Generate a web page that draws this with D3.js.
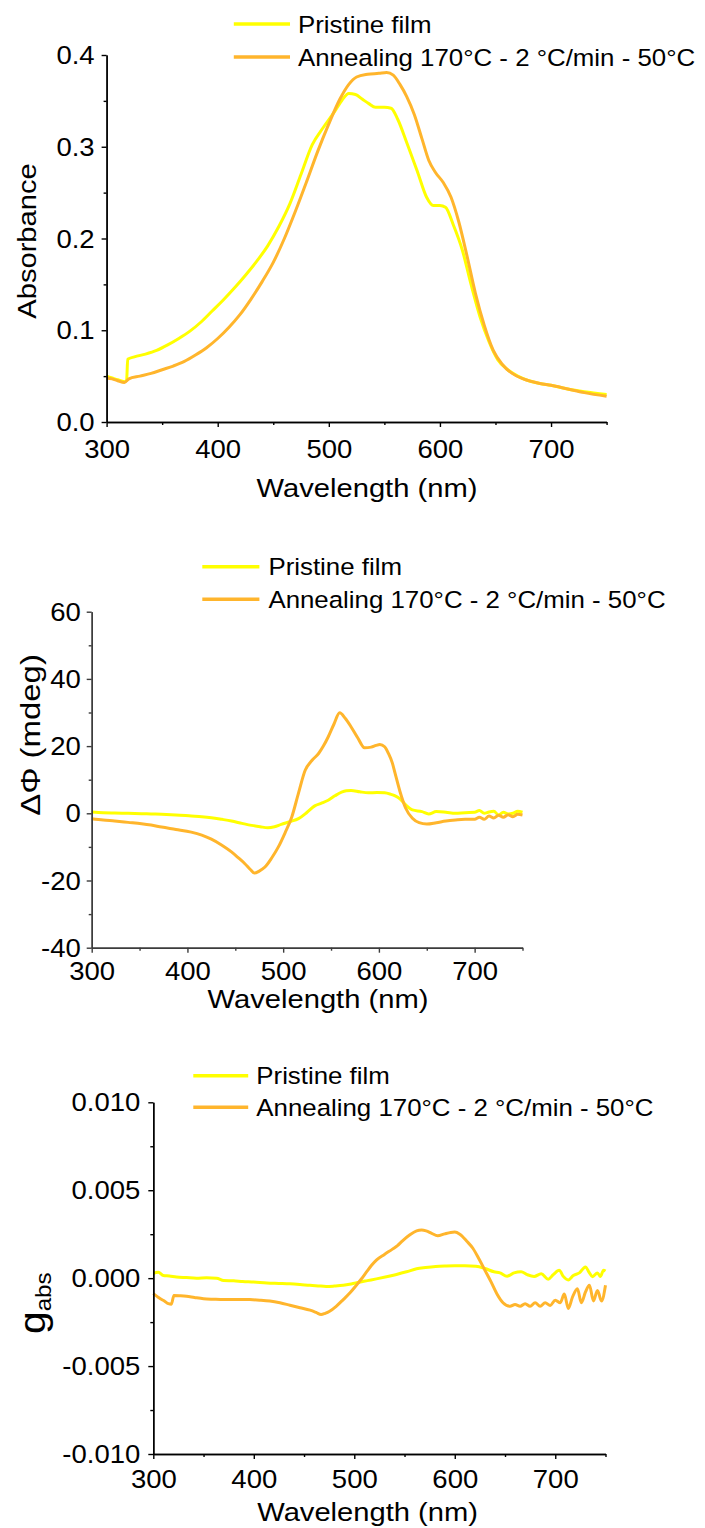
<!DOCTYPE html>
<html>
<head>
<meta charset="utf-8">
<script src="https://cdn.jsdelivr.net/npm/d3@7"></script>
<style>
  html, body { margin: 0; padding: 0; background: #fff; }
  svg { display: block; }
  text { font-family: "Liberation Sans", Arial, sans-serif; fill: #000; }
</style>
</head>
<body>
<svg id="fig" width="705" height="1528"></svg>
<script>
// ---------- data ----------
const seriesNames = ["Pristine film", "Annealing 170°C - 2 °C/min - 50°C"];
const seriesColors = ["#FFFF00", "#FFB52C"];
const xTicks = [300, 400, 500, 600, 700];
const xMinorTicks = [350, 450, 550, 650, 750];

// Absorbance spectra: [wavelength nm, absorbance]
const absPristine = [
  [300,0.050],[305,0.048],[310,0.046],[316,0.044],[318,0.045],[319,0.0685],[325,0.071],
  [335,0.074],[345,0.078],[355,0.084],[365,0.091],[375,0.099],[385,0.109],[395,0.121],
  [405,0.133],[415,0.146],[425,0.160],[435,0.175],[445,0.192],[455,0.213],[465,0.238],
  [475,0.270],[485,0.302],[495,0.321],[505,0.338],[512,0.351],[518,0.358],[524,0.357],
  [530,0.352],[536,0.347],[542,0.343],[550,0.343],[556,0.342],[562,0.330],[570,0.305],
  [580,0.272],[588,0.245],[594,0.236],[600,0.236],[605,0.234],[612,0.215],[620,0.188],
  [628,0.150],[636,0.115],[644,0.088],[652,0.068],[660,0.058],[670,0.050],[680,0.045],
  [690,0.042],[700,0.040],[715,0.036],[730,0.033],[750,0.030]
];
const absAnnealed = [
  [300,0.048],[305,0.047],[310,0.045],[316,0.043],[320,0.047],[330,0.050],[340,0.053],
  [350,0.057],[360,0.061],[370,0.066],[380,0.073],[390,0.081],[400,0.091],[410,0.103],
  [420,0.117],[430,0.134],[440,0.153],[450,0.174],[460,0.200],[470,0.230],[480,0.262],
  [490,0.295],[500,0.325],[510,0.352],[518,0.368],[525,0.376],[535,0.379],[545,0.380],
  [552,0.381],[558,0.378],[564,0.368],[570,0.355],[577,0.335],[584,0.308],[590,0.285],
  [596,0.272],[603,0.261],[610,0.245],[617,0.218],[624,0.183],[632,0.140],[640,0.105],
  [648,0.078],[656,0.063],[665,0.053],[675,0.047],[690,0.042],[700,0.040],[715,0.036],
  [730,0.032],[750,0.028]
];
const absYTicks = [0, 0.1, 0.2, 0.3, 0.4];
const absYMinor = [0.05, 0.15, 0.25, 0.35];

// Circular dichroism: [wavelength nm, ΔΦ mdeg]
const cdPristine = [
  [300,0.4],[312,0.2],[324,0.1],[338,0.0],[352,-0.1],[362,-0.2],[373,-0.3],[388,-0.5],
  [404,-0.8],[415,-1.0],[425,-1.3],[436,-1.8],[446,-2.3],[457,-3.0],[467,-3.6],[476,-4.0],
  [484,-4.3],[491,-4.0],[498,-3.3],[507,-2.5],[516,-1.6],[525,0.3],[533,2.2],[540,3.0],
  [547,3.9],[554,5.2],[561,6.3],[566,6.7],[571,6.8],[580,6.4],[589,6.1],[598,6.2],
  [606,6.1],[612,5.7],[617,5.2],[622,4.3],[628,2.5],[635,1.0],[645,0.5],[652,-0.2],
  [660,0.5],[670,0.3],[680,0.0],[690,0.2],[700,0.3],[705,0.8],[710,0.0],[715,0.4],
  [720,0.6],[725,-0.5],[730,0.3],[735,-0.2],[740,0.0],[745,0.6],[750,0.3]
];
const cdAnnealed = [
  [300,-1.6],[312,-2.0],[324,-2.3],[338,-2.7],[352,-3.1],[362,-3.5],[373,-4.1],[388,-4.8],
  [404,-5.6],[415,-6.5],[425,-7.7],[436,-9.5],[446,-11.5],[453,-13.2],[460,-15.0],[466,-16.8],
  [470,-17.8],[475,-17.2],[481,-16.0],[488,-13.3],[495,-10.0],[502,-5.8],[509,-1.1],
  [516,6.0],[523,12.8],[530,15.7],[537,17.8],[542,20.0],[547,22.7],[553,26.5],[559,29.9],
  [565,28.2],[571,25.7],[578,22.4],[585,19.5],[592,19.7],[597,20.2],[601,20.5],[606,19.8],
  [610,17.8],[614,15.0],[617,11.8],[622,6.5],[628,1.5],[635,-1.5],[642,-2.8],[650,-3.2],
  [660,-2.8],[670,-2.3],[680,-2.0],[690,-1.8],[700,-1.8],[705,-1.2],[710,-1.8],[715,-0.8],
  [720,-1.4],[725,-0.6],[730,-1.2],[735,-0.4],[740,-1.0],[745,-0.3],[750,-0.5]
];
const cdYTicks = [-40, -20, 0, 20, 40, 60];
const cdYMinor = [-30, -10, 10, 30, 50];

// Dissymmetry factor: [wavelength nm, g_abs]
const gPristine = [
  [300,0.00028],[305,0.00034],[310,0.00015],[316,0.00012],[323,0.00006],[333,0.00003],
  [343,0.0],[353,0.00002],[363,0.0],[370,-0.00013],[380,-0.00015],[389,-0.00019],
  [400,-0.00022],[413,-0.00028],[425,-0.00030],[436,-0.00032],[446,-0.00036],[456,-0.00041],
  [464,-0.00044],[472,-0.00047],[480,-0.00045],[489,-0.00041],[497,-0.00033],[505,-0.00023],
  [513,-0.00014],[522,-0.00004],[532,0.00008],[542,0.00021],[552,0.00036],[562,0.00053],
  [571,0.00060],[581,0.00066],[590,0.00069],[600,0.00071],[610,0.00071],[621,0.00068],
  [630,0.00055],[639,0.00036],[645,0.00030],[652,0.00011],[659,0.00030],[666,0.00036],
  [672,0.00020],[679,0.00010],[686,0.00025],[693,-0.00006],[698,0.00020],[704,0.00045],
  [708,0.00010],[713,-0.00010],[718,0.00015],[724,0.00030],[730,0.00064],[734,0.00030],
  [737,0.00008],[742,0.00030],[745,0.00010],[748,0.00045],[750,0.00040]
];
const gAnnealed = [
  [300,-0.00088],[304,-0.00105],[307,-0.00117],[311,-0.00130],[315,-0.00145],[318,-0.00148],
  [320.5,-0.00098],[327,-0.00100],[333,-0.00103],[341,-0.00110],[350,-0.00117],[360,-0.00120],
  [370,-0.00122],[383,-0.00121],[396,-0.00122],[406,-0.00125],[416,-0.00130],[426,-0.00140],
  [436,-0.00154],[446,-0.00168],[456,-0.00182],[462,-0.00195],[467,-0.00207],[471,-0.00200],
  [475.5,-0.00188],[482,-0.00160],[489,-0.00122],[496,-0.00082],[502,-0.00041],[507,-0.00005],
  [512,0.00034],[517,0.00072],[522,0.00103],[530,0.00135],[538,0.00165],[543,0.00185],
  [548,0.00212],[555,0.00245],[562,0.00269],[567,0.00274],[571.5,0.00269],[577,0.00255],
  [583,0.00241],[590,0.00252],[596,0.00260],[600,0.00262],[605,0.00250],[612,0.00210],
  [618,0.00170],[624,0.00110],[630,0.00045],[636,-0.00020],[642,-0.00090],[648,-0.00140],
  [655,-0.00160],[660,-0.00150],[665,-0.00160],[670,-0.00145],[675,-0.00160],[680,-0.00140],
  [685,-0.00160],[690,-0.00140],[695,-0.00155],[700,-0.00125],[705,-0.00140],[709,-0.00090],
  [713,-0.00172],[717,-0.00110],[722,-0.00060],[726,-0.00140],[730,-0.00080],[734,-0.00040],
  [738,-0.00130],[742,-0.00070],[746,-0.00130],[750,-0.00040]
];
const gYTicks = [-0.010, -0.005, 0.000, 0.005, 0.010];
const gYMinor = [-0.0075, -0.0025, 0.0025, 0.0075];

// ---------- drawing ----------
const svg = d3.select("#fig");
const STRETCH = 1.1;          // glyph width factor used by all labels
const TICK_FONT = 25, LEGEND_FONT = 23.5, TITLE_FONT = 26.5;

function stretchedText(g, x, y, str, size, anchor, rotate, stretch) {
  const k = stretch || STRETCH;
  const t = g.append("text")
    .attr("transform", `translate(${x},${y})${rotate ? " rotate(-90)" : ""} scale(${k},1)`)
    .attr("text-anchor", anchor || "start")
    .attr("font-size", size);
  t.text(str);
  return t;
}

function panel(cfg) {
  const g = svg.append("g");
  const x = d3.scaleLinear().domain([300, 750]).range([cfg.left, cfg.right]);
  const y = d3.scaleLinear().domain(cfg.yDomain).range([cfg.bottom, cfg.top]);

  // curves (pristine first, annealed on top)
  const line = d3.line().x(d => x(d[0])).y(d => y(d[1])).curve(d3.curveMonotoneX);
  cfg.series.forEach((s, i) => {
    g.append("path").datum(s)
      .attr("fill", "none")
      .attr("stroke", seriesColors[i])
      .attr("stroke-width", 3)
      .attr("stroke-linejoin", "round")
      .attr("d", line);
  });

  // axes
  const axisColor = cfg.axisColor || "#000";
  const xAxis = g.append("g").attr("transform", `translate(0,${cfg.bottom})`)
    .call(d3.axisBottom(x).tickValues(xTicks).tickSize(5).tickSizeOuter(0).tickFormat(d => d));
  const xMinor = g.append("g").attr("transform", `translate(0,${cfg.bottom})`)
    .call(d3.axisBottom(x).tickValues(xMinorTicks).tickSize(3).tickSizeOuter(0).tickFormat(""));
  const yAxis = g.append("g").attr("transform", `translate(${cfg.left},0)`)
    .call(d3.axisLeft(y).tickValues(cfg.yTicks).tickSize(5).tickSizeOuter(0).tickFormat(cfg.yFormat));
  const yMinor = g.append("g").attr("transform", `translate(${cfg.left},0)`)
    .call(d3.axisLeft(y).tickValues(cfg.yMinor).tickSize(3).tickSizeOuter(0).tickFormat(""));

  [xAxis, xMinor, yAxis, yMinor].forEach(a => {
    a.select(".domain").attr("stroke", axisColor).attr("stroke-width", 1.4);
    a.selectAll(".tick line").attr("stroke", axisColor).attr("stroke-width", 1.4);
  });
  xAxis.selectAll(".tick text")
    .attr("font-size", TICK_FONT).attr("fill", "#000")
    .attr("y", 0).attr("dy", cfg.xTickBase)
    .attr("transform", `scale(${STRETCH},1)`);
  yAxis.selectAll(".tick text")
    .attr("font-size", TICK_FONT).attr("fill", "#000")
    .attr("x", -cfg.yTickGap / STRETCH).attr("dy", "0.34em")
    .attr("transform", `scale(${STRETCH},1)`);

  // axis titles
  stretchedText(g, cfg.xTitle[0], cfg.xTitle[1], "Wavelength (nm)", TITLE_FONT, "middle");
  cfg.yTitle(g);

  // legend
  seriesNames.forEach((name, i) => {
    const ly = cfg.legendY[i];
    g.append("line")
      .attr("x1", cfg.legendX[0]).attr("x2", cfg.legendX[1])
      .attr("y1", ly).attr("y2", ly)
      .attr("stroke", seriesColors[i]).attr("stroke-width", 3.4);
    stretchedText(g, cfg.legendX[2], ly + 8.5, name, LEGEND_FONT, "start");
  });
}

// Absorbance panel
panel({
  left: 106.6, right: 606.6, top: 55, bottom: 422,
  yDomain: [0, 0.4], yTicks: absYTicks, yMinor: absYMinor,
  yFormat: d => d.toFixed(1),
  series: [absPristine, absAnnealed],
  xTickBase: 36, yTickGap: 12,
  xTitle: [367, 497],
  yTitle: g => stretchedText(g, 36, 241, "Absorbance", TITLE_FONT, "middle", true),
  legendX: [233.8, 290, 298], legendY: [24, 57]
});

// CD panel
panel({
  left: 91.7, right: 522.5, top: 611.7, bottom: 947.7,
  yDomain: [-40, 60], yTicks: cdYTicks, yMinor: cdYMinor,
  yFormat: d => String(d),
  series: [cdPristine, cdAnnealed],
  axisColor: "#3c3c3c",
  xTickBase: 32, yTickGap: 11,
  xTitle: [318, 1008],
  yTitle: g => stretchedText(g, 40, 735, "ΔΦ (mdeg)", 27, "middle", true, 1.22),
  legendX: [202.3, 259.4, 268.4], legendY: [566.7, 599.3]
});

// g-factor panel
panel({
  left: 153.3, right: 605.5, top: 1102.3, bottom: 1454,
  yDomain: [-0.010, 0.010], yTicks: gYTicks, yMinor: gYMinor,
  yFormat: d => d.toFixed(3),
  series: [gPristine, gAnnealed],
  xTickBase: 34, yTickGap: 13,
  xTitle: [367.6, 1521],
  yTitle: g => {
    const t = g.append("text")
      .attr("transform", `translate(45,1334) rotate(-90) scale(${STRETCH},1)`)
      .attr("text-anchor", "start");
    t.append("tspan").attr("font-size", 37).text("g");
    t.append("tspan").attr("font-size", 22).attr("dy", 6).text("abs");
  },
  legendX: [193.3, 248.2, 256.3], legendY: [1075.7, 1107.3]
});
</script>
</body>
</html>
